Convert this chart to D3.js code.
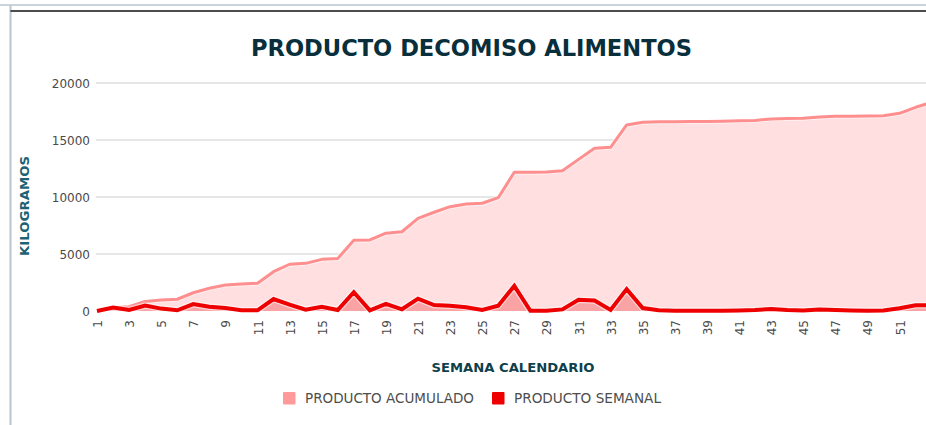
<!DOCTYPE html>
<html>
<head>
<meta charset="utf-8">
<script src="https://cdn.jsdelivr.net/npm/d3@7"></script>
<style>
  html, body { margin: 0; padding: 0; background: #fff; overflow: hidden; }
  svg { display: block; }
</style>
</head>
<body>
<svg id="chart" width="926" height="425"></svg>
<script>
// ---- data ----
const weeks = d3.range(1, 54);
const accumulado = [0, 280, 380, 830, 960, 1030, 1600, 1990, 2280, 2370,
  2430, 3450, 4100, 4180, 4530, 4600, 6200, 6230, 6830, 6950,
  8130, 8660, 9150, 9390, 9450, 9940, 12170, 12180, 12190, 12310,
  13300, 14270, 14360, 16320, 16550, 16600, 16610, 16620, 16630, 16650,
  16680, 16720, 16850, 16880, 16910, 17020, 17080, 17090, 17100, 17130,
  17340, 17870, 18300];
const semanal = [0, 300, 100, 470, 210, 60, 610, 380, 260, 60,
  60, 1050, 560, 120, 380, 90, 1650, 60, 620, 150,
  1080, 520, 470, 320, 90, 470, 2200, 20, 20, 140,
  980, 920, 90, 1920, 260, 60, 30, 30, 30, 30,
  50, 90, 180, 90, 50, 130, 80, 50, 30, 40,
  240, 500, 520];
const yTicks = [0, 5000, 10000, 15000, 20000];
const xTickLabels = weeks.filter(w => w % 2 === 1);
const seriesNames = ["PRODUCTO ACUMULADO", "PRODUCTO SEMANAL"];
const title = "PRODUCTO DECOMISO ALIMENTOS";
const yTitle = "KILOGRAMOS";
const xTitle = "SEMANA CALENDARIO";

// ---- layout ----
const svg = d3.select("#chart");
const x = d3.scaleLinear().domain([1, 53]).range([97, 97 + 52 * 16.05]);
const y = d3.scaleLinear().domain([0, 20000]).range([311, 83]);

// frame
svg.append("line").attr("x1", 0).attr("x2", 926).attr("y1", 5).attr("y2", 5)
  .attr("stroke", "#b9c6cf").attr("stroke-width", 1.5);
svg.append("line").attr("x1", 10.5).attr("x2", 10.5).attr("y1", 5).attr("y2", 425)
  .attr("stroke", "#b9c6cf").attr("stroke-width", 2);
svg.append("line").attr("x1", 10.5).attr("x2", 926).attr("y1", 11).attr("y2", 11)
  .attr("stroke", "#111").attr("stroke-width", 1.6);

// title
svg.append("text").attr("x", 471.5).attr("y", 56)
  .attr("text-anchor", "middle")
  .attr("font-family", "DejaVu Sans Condensed, DejaVu Sans, sans-serif")
  .attr("font-weight", "bold").attr("font-size", 22.5)
  .attr("fill", "#082f3b")
  .attr("textLength", 441).attr("lengthAdjust", "spacingAndGlyphs")
  .text(title);

// gridlines
svg.append("g").selectAll("line").data(yTicks.filter(d => d > 0)).join("line")
  .attr("x1", 96).attr("x2", 926)
  .attr("y1", d => y(d)).attr("y2", d => y(d))
  .attr("stroke", "#dedede").attr("stroke-width", 1.5);

// y axis labels
const yAxis = d3.axisLeft(y).tickValues(yTicks).tickSize(0).tickPadding(0).tickFormat(d3.format("d"));
const gy = svg.append("g").attr("transform", "translate(90,0)").call(yAxis);
gy.select(".domain").remove();
gy.selectAll("text").attr("font-family", "DejaVu Sans, Verdana, sans-serif")
  .attr("font-size", 12).attr("fill", "#4a4a4a").attr("dy", "0.35em");

// areas and lines
const dataAcc = weeks.map((w, i) => ({ w, v: accumulado[i] }));
const dataSem = weeks.map((w, i) => ({ w, v: semanal[i] }));
const area = d3.area().x(d => x(d.w)).y0(y(0)).y1(d => y(d.v));
const line = d3.line().x(d => x(d.w)).y(d => y(d.v));

svg.append("path").datum(dataAcc).attr("d", area).attr("fill", "#ffdfe0");
svg.append("path").datum(dataAcc).attr("d", line).attr("fill", "none")
  .attr("stroke", "#ffffff").attr("stroke-width", 5).attr("stroke-opacity", 0.5);
svg.append("path").datum(dataAcc).attr("d", line).attr("fill", "none")
  .attr("stroke", "#ff8f8f").attr("stroke-width", 3).attr("stroke-linejoin", "round");

svg.append("path").datum(dataSem).attr("d", area).attr("fill", "#f25a5a").attr("fill-opacity", 0.45);
svg.append("path").datum(dataSem).attr("d", line).attr("fill", "none")
  .attr("stroke", "#ffffff").attr("stroke-width", 6.5).attr("stroke-opacity", 0.55);
svg.append("path").datum(dataSem).attr("d", line).attr("fill", "none")
  .attr("stroke", "#ee0000").attr("stroke-width", 4).attr("stroke-linejoin", "miter");

// x axis labels (rotated)
const xAxis = d3.axisBottom(x).tickValues(xTickLabels).tickSize(0).tickPadding(0).tickFormat(d3.format("d"));
const gx = svg.append("g").attr("transform", "translate(0,311)").call(xAxis);
gx.select(".domain").remove();
gx.selectAll("text")
  .attr("font-family", "DejaVu Sans, Verdana, sans-serif")
  .attr("font-size", 12).attr("fill", "#4a4a4a")
  .attr("text-anchor", "end")
  .attr("transform", "rotate(-90)")
  .attr("x", -9).attr("y", 0).attr("dy", "0.38em");

// axis titles
svg.append("text").attr("transform", "translate(29,206) rotate(-90)")
  .attr("text-anchor", "middle")
  .attr("font-family", "DejaVu Sans, Verdana, sans-serif")
  .attr("font-weight", "bold").attr("font-size", 12.5)
  .attr("fill", "#1d6174")
  .attr("textLength", 100).attr("lengthAdjust", "spacingAndGlyphs")
  .text(yTitle);

svg.append("text").attr("x", 513).attr("y", 372)
  .attr("text-anchor", "middle")
  .attr("font-family", "DejaVu Sans, Verdana, sans-serif")
  .attr("font-weight", "bold").attr("font-size", 13)
  .attr("fill", "#0e3f4c")
  .attr("textLength", 163).attr("lengthAdjust", "spacingAndGlyphs")
  .text(xTitle);

// legend
const legendColors = ["#ff9a9a", "#ee0000"];
const legendX = [283, 492];
const legendW = [169, 147];
const lg = svg.append("g").selectAll("g").data(seriesNames).join("g")
  .attr("transform", (d, i) => `translate(${legendX[i]},392)`);
lg.append("rect").attr("width", 12.5).attr("height", 12.5).attr("rx", 1)
  .attr("fill", (d, i) => legendColors[i]);
lg.append("text").attr("x", 22).attr("y", 11.3)
  .attr("font-family", "DejaVu Sans, Verdana, sans-serif")
  .attr("font-size", 13.3).attr("fill", "#4d4d4d")
  .attr("textLength", (d, i) => legendW[i]).attr("lengthAdjust", "spacingAndGlyphs")
  .text(d => d);
</script>
</body>
</html>
